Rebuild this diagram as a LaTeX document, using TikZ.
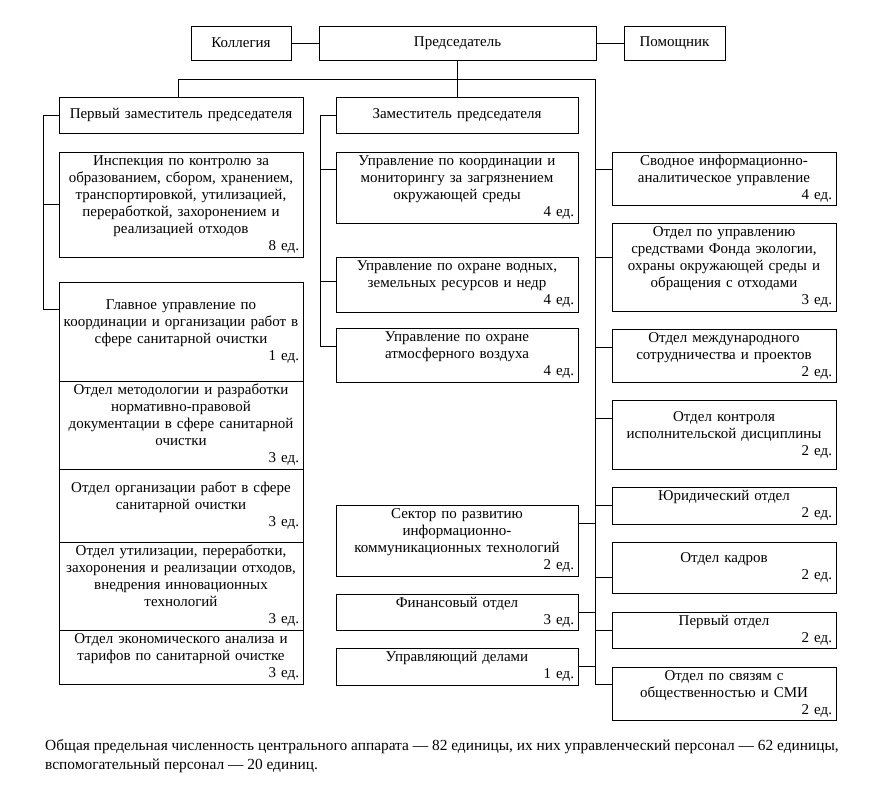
\documentclass[tikz,border=0pt]{standalone}
\usepackage{fontspec}
\setmainfont{Liberation Serif}
\newcommand{\shtat}[1]{\\\hspace*{\fill}#1~ед.}
\begin{document}
\begin{tikzpicture}[x=1pt, y=-1pt,
    box/.style={draw, line width=1pt, align=center, anchor=north west, outer sep=0pt, inner xsep=4pt, inner ysep=0pt, font=\fontsize{15}{17}\selectfont},
    lcol/.style={box, minimum width=244, text width=236},
    mcol/.style={box, minimum width=242, text width=234},
    rcol/.style={box, minimum width=224, text width=216},
    link/.style={line width=0.9pt}]
    \fill[white] (0,0) rectangle (880,793);
    \useasboundingbox (0,0) rectangle (880,793);
    \node[box, minimum width=100, minimum height=34] (kol) at (191,26) {Коллегия};
    \node[box, minimum width=277, minimum height=34] (pred) at (319,26) {Председатель};
    \node[box, minimum width=101, minimum height=34] (pom) at (624,26) {Помощник};
    \node[lcol, minimum height=36] (fdep) at (59,97) {Первый заместитель председателя};
    \node[mcol, minimum height=36] (dep) at (336,97) {Заместитель председателя};
    \node[lcol, minimum height=105] (insp) at (59,152) {Инспекция по контролю за\\образованием, сбором, хранением,\\транспортировкой, утилизацией,\\переработкой, захоронением и\\реализацией отходов\shtat{8}};
    \node[lcol, minimum height=99] (glav) at (59,282) {Главное управление по\\координации и организации работ в\\сфере санитарной очистки\shtat{1}};
    \node[lcol, minimum height=88] (metod) at (59,381) {Отдел методологии и разработки\\нормативно-правовой\\документации в сфере санитарной\\очистки\shtat{3}};
    \node[lcol, minimum height=73] (org) at (59,469) {Отдел организации работ в сфере\\санитарной очистки\shtat{3}};
    \node[lcol, minimum height=88] (util) at (59,542) {Отдел утилизации, переработки,\\захоронения и реализации отходов,\\внедрения инновационных\\технологий\shtat{3}};
    \node[lcol, minimum height=54] (econ) at (59,630) {Отдел экономического анализа и\\тарифов по санитарной очистке\shtat{3}};
    \node[mcol, minimum height=71] (m1) at (336,152) {Управление по координации и\\мониторингу за загрязнением\\окружающей среды\shtat{4}};
    \node[mcol, minimum height=55] (m2) at (336,257) {Управление по охране водных,\\земельных ресурсов и недр\shtat{4}};
    \node[mcol, minimum height=54] (m3) at (336,328) {Управление по охране\\атмосферного воздуха\shtat{4}};
    \node[mcol, minimum height=71] (sek) at (336,505) {Сектор по развитию\\информационно-\\коммуникационных технологий\shtat{2}};
    \node[mcol, minimum height=36] (fin) at (336,594) {Финансовый отдел\shtat{3}};
    \node[mcol, minimum height=37] (upr) at (336,648) {Управляющий делами\shtat{1}};
    \node[rcol, minimum height=53] (r1) at (612,152) {Сводное информационно-\\аналитическое управление\shtat{4}};
    \node[rcol, minimum height=88] (r2) at (612,223) {Отдел по управлению\\средствами Фонда экологии,\\охраны окружающей среды и\\обращения с отходами\shtat{3}};
    \node[rcol, minimum height=53] (r3) at (612,329) {Отдел международного\\сотрудничества и проектов\shtat{2}};
    \node[rcol, minimum height=69] (r4) at (612,400) {Отдел контроля\\исполнительской дисциплины\shtat{2}};
    \node[rcol, minimum height=37] (r5) at (612,487) {Юридический отдел\shtat{2}};
    \node[rcol, minimum height=51] (r6) at (612,542) {Отдел кадров\shtat{2}};
    \node[rcol, minimum height=36] (r7) at (612,612) {Первый отдел\shtat{2}};
    \node[rcol, minimum height=53] (r8) at (612,667) {Отдел по связям с\\общественностью и СМИ\shtat{2}};
    \node[anchor=north west, align=left, inner sep=0pt, font=\fontsize{15.4}{19}\selectfont] (note) at (45,739) {Общая предельная численность центрального аппарата~--- 82 единицы, их них управленческий персонал~--- 62 единицы,\\вспомогательный персонал~--- 20 единиц.};
    \coordinate (rb) at (595,79);
    \draw[link] (kol) -- (pred);
    \draw[link] (pred) -- (pom);
    \draw[link] (pred.south) -- (pred.south |- dep.north);
    \draw[link] ([xshift=-3]fdep.north) |- (rb) |- ([yshift=9.5]r8.west);
    \draw[link] (fdep.west) -- ++(-16,0) |- ([yshift=22.5]glav.west);
    \draw[link] (insp.west) -- +(-16,0);
    \draw[link] (dep.west) -- ++(-16,0) |- ([yshift=9]m3.west);
    \draw[link] ([yshift=18.5]m1.west) -- +(-16,0);
    \draw[link] ([yshift=3.5]m2.west) -- +(-16,0);
    \draw[link] ([yshift=9.5]r1.west) -- +(-17,0);
    \draw[link] ([yshift=10]r2.west) -- +(-17,0);
    \draw[link] ([yshift=8.5]r3.west) -- +(-17,0);
    \draw[link] ([yshift=16.5]r4.west) -- +(-17,0);
    \draw[link] (r5.west) -- +(-17,0);
    \draw[link] ([yshift=-9.5]r6.west) -- +(-17,0);
    \draw[link] (r7.west) -- +(-17,0);
    \draw[link] ([yshift=17.5]sek.east) -- +(17,0);
    \draw[link] (fin.east) -- +(17,0);
    \draw[link] (upr.east) -- +(17,0);
\end{tikzpicture}
\end{document}
